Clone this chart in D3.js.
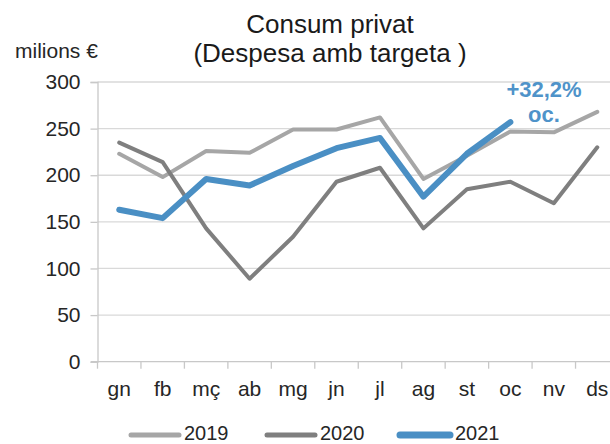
<!DOCTYPE html>
<html>
<head>
<meta charset="utf-8">
<script src="https://cdn.jsdelivr.net/npm/d3@7"></script>
<style>
  html, body { margin: 0; padding: 0; background: #fff; }
  svg { display: block; font-family: "Liberation Sans", Arial, sans-serif; }
</style>
</head>
<body>
<svg id="chart" width="610" height="444"></svg>
<script>
const months = ["gn", "fb", "mç", "ab", "mg", "jn", "jl", "ag", "st", "oc", "nv", "ds"];
const yTicks = [0, 50, 100, 150, 200, 250, 300];
const values2019 = [223, 198, 226, 224, 249, 249, 262, 196, 221, 247, 246, 268];
const values2020 = [235, 214, 143, 89, 134, 193, 208, 143, 185, 193, 170, 230];
const values2021 = [163, 154, 196, 189, 210, 229, 240, 177, 223, 257];
const seriesNames = ["2019", "2020", "2021"];
const titleLines = ["Consum privat", "(Despesa amb targeta )"];
const unitLabel = "milions €";
const annotation = ["+32,2%", "oc."];

const series = [
  { name: seriesNames[0], values: values2019, color: "#a6a6a6", width: 4 },
  { name: seriesNames[1], values: values2020, color: "#7f7f7f", width: 4 },
  { name: seriesNames[2], values: values2021, color: "#4a8fc4", width: 6 }
];

const svg = d3.select("#chart");
const x = d3.scaleBand().domain(months).range([97.5, 619]);
const y = d3.scaleLinear().domain([0, 300]).range([361.7, 82]);
const cx = m => x(m) + x.bandwidth() / 2;

// gridlines
svg.append("g").selectAll("line").data(yTicks.filter(t => t > 0)).join("line")
  .attr("x1", 97.5).attr("x2", 619)
  .attr("y1", d => y(d)).attr("y2", d => y(d))
  .attr("stroke", "#d9d9d9").attr("stroke-width", 1.3);

// y axis
const yAxis = svg.append("g").attr("transform", "translate(97.5,0)")
  .call(d3.axisLeft(y).tickValues(yTicks).tickSize(7).tickPadding(10));
yAxis.select(".domain").attr("stroke", "#c8c8c8").attr("stroke-width", 1.3);
yAxis.selectAll(".tick line").attr("stroke", "#c8c8c8").attr("stroke-width", 1.3);
yAxis.selectAll(".tick text").attr("font-size", 21).attr("fill", "#262626")
  .attr("font-family", "Liberation Sans, Arial, sans-serif").attr("dy", "0.32em");

// x axis baseline and tick marks between categories
svg.append("line").attr("x1", 91).attr("x2", 619)
  .attr("y1", y(0)).attr("y2", y(0)).attr("stroke", "#c8c8c8").attr("stroke-width", 1.3);
const edges = months.map(m => x(m)).concat([x(months[months.length - 1]) + x.bandwidth()]);
svg.append("g").selectAll("line").data(edges).join("line")
  .attr("x1", d => d).attr("x2", d => d)
  .attr("y1", y(0)).attr("y2", y(0) + 7)
  .attr("stroke", "#c8c8c8").attr("stroke-width", 1.3);
svg.append("g").selectAll("text").data(months).join("text")
  .attr("x", d => cx(d)).attr("y", 396)
  .attr("text-anchor", "middle").attr("font-size", 21).attr("fill", "#262626")
  .text(d => d);

// lines
const line = d3.line().x((d, i) => cx(months[i])).y(d => y(d));
svg.append("g").selectAll("path").data(series).join("path")
  .attr("d", d => line(d.values))
  .attr("fill", "none")
  .attr("stroke", d => d.color)
  .attr("stroke-width", d => d.width)
  .attr("stroke-linejoin", "round")
  .attr("stroke-linecap", "round");

// title
svg.append("g").selectAll("text").data(titleLines).join("text")
  .attr("x", 330).attr("y", (d, i) => 33 + i * 29)
  .attr("text-anchor", "middle").attr("font-size", 26).attr("fill", "#1a1a1a")
  .text(d => d);

svg.append("text").attr("x", 15).attr("y", 58).attr("font-size", 21)
  .attr("fill", "#262626").text(unitLabel);

// annotation
svg.append("g").selectAll("text").data(annotation).join("text")
  .attr("x", 544).attr("y", (d, i) => 96.5 + i * 25)
  .attr("text-anchor", "middle").attr("font-size", 22).attr("font-weight", "bold")
  .attr("fill", "#4f93c9").text(d => d);

// legend
const legendX = [129, 265, 398];
const lg = svg.append("g").selectAll("g").data(series).join("g")
  .attr("transform", (d, i) => `translate(${legendX[i]},435)`);
lg.append("line").attr("x1", 2).attr("x2", d => d.width > 4 ? 52 : 50)
  .attr("y1", 0).attr("y2", 0)
  .attr("stroke", d => d.color).attr("stroke-width", d => d.width > 4 ? 7 : 5)
  .attr("stroke-linecap", "round");
lg.append("text").attr("x", d => d.width > 4 ? 57 : 55).attr("y", 5).attr("font-size", 20)
  .attr("fill", "#262626").text(d => d.name);
</script>
</body>
</html>
